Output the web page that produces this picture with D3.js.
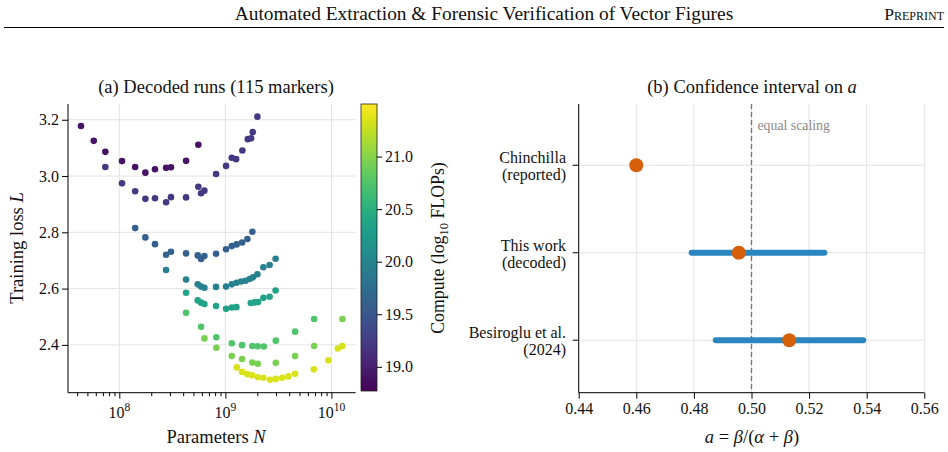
<!DOCTYPE html>
<html>
<head>
<meta charset="utf-8">
<script src="https://cdn.jsdelivr.net/npm/d3@7"></script>
<style>
  body { margin: 0; background: #fff; }
  svg text { font-family: "Liberation Serif", "DejaVu Serif", serif; fill: #111; }
</style>
</head>
<body>
<svg id="fig" width="948" height="452"></svg>
<script>
// iso-FLOP runs, one row per compute budget (log10 FLOPs)
const compute = [18.9, 19.2, 19.6, 19.95, 20.35, 20.75, 20.95, 21.35];
// parameters, in millions
const paramsM = [
  [43.5, 57.4, 73.8, 106, 141, 176, 217, 276, 307, 426, 556],
  [73.8, 106, 141, 176, 217, 276, 307, 426, 556, 590, 634, 817, 1015, 1149, 1262, 1447, 1627, 1748, 1813, 2004],
  [141, 176, 217, 276, 307, 426, 549, 590, 634, 817, 1015, 1149, 1276, 1437, 1613, 1797],
  [276, 426, 549, 590, 634, 817, 1015, 1149, 1276, 1407, 1551, 1692, 1825, 2004, 2283, 2612, 2976],
  [426, 549, 590, 634, 817, 1015, 1149, 1270, 1736, 1886, 2034, 2283, 2612, 2976],
  [426, 590, 822, 1149, 1437, 1797, 2021, 2303, 2989, 4545, 6868],
  [634, 822, 1149, 1437, 1797, 2021, 2989, 4545, 6868, 12700],
  [1281, 1437, 1613, 1786, 2021, 2283, 2641, 2989, 3426, 3929, 4545, 6823, 9369, 11490, 12700]
];
const loss = [
  [3.178, 3.125, 3.086, 3.053, 3.032, 3.012, 3.024, 3.029, 3.031, 3.054, 3.111],
  [3.032, 2.974, 2.946, 2.919, 2.921, 2.907, 2.925, 2.924, 2.962, 2.939, 2.948, 3.007, 3.036, 3.065, 3.060, 3.091, 3.131, 3.134, 3.156, 3.211],
  [2.815, 2.782, 2.758, 2.720, 2.731, 2.725, 2.718, 2.705, 2.716, 2.724, 2.740, 2.751, 2.757, 2.764, 2.776, 2.802],
  [2.666, 2.632, 2.615, 2.607, 2.603, 2.606, 2.607, 2.615, 2.621, 2.625, 2.628, 2.634, 2.640, 2.651, 2.676, 2.684, 2.706],
  [2.585, 2.558, 2.550, 2.545, 2.538, 2.528, 2.533, 2.534, 2.549, 2.551, 2.552, 2.567, 2.571, 2.593],
  [2.514, 2.464, 2.427, 2.406, 2.399, 2.396, 2.395, 2.394, 2.415, 2.447, 2.492],
  [2.423, 2.390, 2.360, 2.350, 2.337, 2.333, 2.336, 2.360, 2.396, 2.492],
  [2.320, 2.304, 2.296, 2.292, 2.285, 2.283, 2.276, 2.279, 2.283, 2.288, 2.297, 2.313, 2.345, 2.387, 2.396]
];
const lossTicks = [2.4, 2.6, 2.8, 3.0, 3.2];
const paramTicks = [1e8, 1e9, 1e10];
const computeTicks = [19.0, 19.5, 20.0, 20.5, 21.0];

// panel (b)
const studies = [["Chinchilla", "(reported)"], ["This work", "(decoded)"], ["Besiroglu et al.", "(2024)"]];
const estimate = [0.46, 0.4956, 0.5131];
const ciLow = [null, 0.4792, 0.4876];
const ciHigh = [null, 0.5253, 0.5388];
const aTicks = [0.44, 0.46, 0.48, 0.50, 0.52, 0.54, 0.56];

const runs = [];
compute.forEach((c, i) => paramsM[i].forEach((n, j) => runs.push({n: n * 1e6, l: loss[i][j], c: c})));

const svg = d3.select("#fig");
const gridCol = "#e3e3e3";
const labelSize = "18.5px";

// page header
svg.append("text").attr("x", 484).attr("y", 20).attr("text-anchor", "middle")
  .style("font-size", "19.4px").text("Automated Extraction & Forensic Verification of Vector Figures");
svg.append("text").attr("x", 944).attr("y", 20).attr("text-anchor", "end")
  .style("font-size", "17.6px").style("font-variant", "small-caps").text("Preprint");
svg.append("line").attr("x1", 4).attr("x2", 944).attr("y1", 27.5).attr("y2", 27.5)
  .attr("stroke", "#000").attr("stroke-width", 1);

// ---- (a) scatter ----
const x = d3.scaleLog().domain([10 ** 7.516, 10 ** 10.229]).range([68, 355.7]);
const y = d3.scaleLinear().domain([2.230, 3.256]).range([392.7, 104]);
const color = d3.scaleSequential(d3.interpolateViridis).domain([18.77, 21.5]);

const ga = svg.append("g");
ga.selectAll(".hg").data(lossTicks).join("line")
  .attr("x1", 68).attr("x2", 355.7).attr("y1", d => y(d)).attr("y2", d => y(d))
  .attr("stroke", gridCol).attr("stroke-width", 1);
ga.selectAll(".vg").data(paramTicks).join("line")
  .attr("x1", d => x(d)).attr("x2", d => x(d)).attr("y1", 104).attr("y2", 392.7)
  .attr("stroke", gridCol).attr("stroke-width", 1);

ga.selectAll("circle").data(runs).join("circle")
  .attr("cx", d => x(d.n)).attr("cy", d => y(d.l)).attr("r", 3.3)
  .attr("fill", d => color(d.c));

const minor = [];
for (let e = 7; e <= 10; e++) for (let k = 2; k <= 9; k++) {
  const v = k * 10 ** e;
  if (v > x.domain()[0] && v < x.domain()[1]) minor.push(v);
}
const xMinor = ga.append("g").attr("transform", "translate(0,392.7)")
  .call(d3.axisBottom(x).tickValues(minor).tickFormat("").tickSize(3.5).tickSizeOuter(0));
const xMajor = ga.append("g").attr("transform", "translate(0,392.7)")
  .call(d3.axisBottom(x).tickValues(paramTicks).tickFormat("").tickSize(6).tickSizeOuter(0));
[xMinor, xMajor].forEach(g => g.select(".domain").remove());
ga.selectAll(".xlab").data(paramTicks).join("text")
  .attr("x", d => x(d)).attr("y", 418).attr("text-anchor", "middle").style("font-size", "16px")
  .each(function(d) {
    const t = d3.select(this);
    t.append("tspan").text("10");
    t.append("tspan").attr("dy", -7).style("font-size", "11.5px").text(Math.round(Math.log10(d)));
  });

const yAx = ga.append("g").attr("transform", "translate(68,0)")
  .call(d3.axisLeft(y).tickValues(lossTicks).tickFormat(d3.format(".1f")).tickSize(6).tickSizeOuter(0));
yAx.select(".domain").remove();
yAx.selectAll("text").style("font-size", "16px").style("font-family", "Liberation Serif").attr("x", -9);
ga.append("line").attr("x1", 68).attr("x2", 68).attr("y1", 104).attr("y2", 392.7).attr("stroke", "#000");
ga.append("line").attr("x1", 68).attr("x2", 355.7).attr("y1", 392.7).attr("y2", 392.7).attr("stroke", "#000");

ga.append("text").attr("x", 216).attr("y", 93).attr("text-anchor", "middle").style("font-size", labelSize)
  .text("(a) Decoded runs (115 markers)");
const xl = ga.append("text").attr("x", 216).attr("y", 443).attr("text-anchor", "middle").style("font-size", labelSize);
xl.append("tspan").text("Parameters ");
xl.append("tspan").style("font-style", "italic").text("N");
const yl = ga.append("text").attr("transform", "translate(23,248) rotate(-90)").attr("text-anchor", "middle").style("font-size", labelSize);
yl.append("tspan").text("Training loss ");
yl.append("tspan").style("font-style", "italic").text("L");

// colorbar
const cy = d3.scaleLinear().domain(color.domain()).range([391, 104]);
const grad = svg.append("defs").append("linearGradient").attr("id", "vir")
  .attr("x1", 0).attr("x2", 0).attr("y1", 1).attr("y2", 0);
d3.range(0, 1.0001, 0.05).forEach(t => grad.append("stop").attr("offset", t).attr("stop-color", d3.interpolateViridis(t)));
svg.append("rect").attr("x", 361).attr("y", 104).attr("width", 16).attr("height", 287)
  .attr("fill", "url(#vir)").attr("stroke", "#222").attr("stroke-width", 0.8);
const cAx = svg.append("g").attr("transform", "translate(377,0)")
  .call(d3.axisRight(cy).tickValues(computeTicks).tickFormat(d3.format(".1f")).tickSize(5).tickSizeOuter(0));
cAx.select(".domain").remove();
cAx.selectAll("text").style("font-size", "16px").style("font-family", "Liberation Serif").attr("x", 8);
const cl = svg.append("text").attr("transform", "translate(443.5,248) rotate(-90)").attr("text-anchor", "middle").style("font-size", "17.8px");
cl.append("tspan").text("Compute (log");
cl.append("tspan").attr("dy", 4).style("font-size", "12.5px").text("10");
cl.append("tspan").attr("dy", -4).text(" FLOPs)");

// ---- (b) confidence intervals ----
const xb = d3.scaleLinear().domain([0.44, 0.56]).range([578.7, 924.3]);
const yb = d3.scaleLinear().domain([-0.7, 2.6]).range([104, 392.7]);
const gb = svg.append("g");

gb.selectAll(".vg").data(aTicks).join("line")
  .attr("x1", d => xb(d)).attr("x2", d => xb(d)).attr("y1", 104).attr("y2", 392.7)
  .attr("stroke", gridCol).attr("stroke-width", 1);
gb.selectAll(".hg").data(studies).join("line")
  .attr("x1", 578.7).attr("x2", 924.3).attr("y1", (d, i) => yb(i)).attr("y2", (d, i) => yb(i))
  .attr("stroke", gridCol).attr("stroke-width", 1);

gb.append("line").attr("x1", xb(0.5)).attr("x2", xb(0.5)).attr("y1", 104).attr("y2", 392.7)
  .attr("stroke", "#777").attr("stroke-width", 1.4).attr("stroke-dasharray", "5,3");
gb.append("text").attr("x", xb(0.5) + 6).attr("y", 130).style("font-size", "13.8px").style("fill", "#888")
  .text("equal scaling");

gb.selectAll(".ci").data(studies.map((s, i) => i).filter(i => ciLow[i] != null)).join("line")
  .attr("x1", i => xb(ciLow[i])).attr("x2", i => xb(ciHigh[i]))
  .attr("y1", i => yb(i)).attr("y2", i => yb(i))
  .attr("stroke", "#2b86c0").attr("stroke-width", 6).attr("stroke-linecap", "round");
gb.selectAll(".pt").data(estimate).join("circle")
  .attr("cx", d => xb(d)).attr("cy", (d, i) => yb(i)).attr("r", 7)
  .attr("fill", "#d65f0a");

const xbAx = gb.append("g").attr("transform", "translate(0,392.7)")
  .call(d3.axisBottom(xb).tickValues(aTicks).tickFormat(d3.format(".2f")).tickSize(6).tickSizeOuter(0));
xbAx.select(".domain").remove();
xbAx.selectAll("text").style("font-size", "16px").style("font-family", "Liberation Serif").attr("y", 10);
gb.append("line").attr("x1", 578.7).attr("x2", 924.3).attr("y1", 392.7).attr("y2", 392.7).attr("stroke", "#000");
gb.append("line").attr("x1", 578.7).attr("x2", 578.7).attr("y1", 104).attr("y2", 392.7).attr("stroke", "#000");
gb.selectAll(".yt").data(studies).join("line")
  .attr("x1", 572.7).attr("x2", 578.7).attr("y1", (d, i) => yb(i)).attr("y2", (d, i) => yb(i)).attr("stroke", "#000");
gb.selectAll(".ylab").data(studies).join("text")
  .attr("x", 566).attr("y", (d, i) => yb(i)).attr("text-anchor", "end").style("font-size", "16px")
  .each(function(d) {
    const t = d3.select(this);
    t.append("tspan").attr("x", 566).attr("dy", -2).text(d[0]);
    t.append("tspan").attr("x", 566).attr("dy", 17).text(d[1]);
  });

const tb = gb.append("text").attr("x", 752).attr("y", 93).attr("text-anchor", "middle").style("font-size", labelSize);
tb.append("tspan").text("(b) Confidence interval on ");
tb.append("tspan").style("font-style", "italic").text("a");
const xbl = gb.append("text").attr("x", 752).attr("y", 443).attr("text-anchor", "middle").style("font-size", labelSize);
xbl.append("tspan").style("font-style", "italic").text("a");
xbl.append("tspan").text(" = ");
xbl.append("tspan").style("font-style", "italic").text("β");
xbl.append("tspan").text("/(");
xbl.append("tspan").style("font-style", "italic").text("α");
xbl.append("tspan").text(" + ");
xbl.append("tspan").style("font-style", "italic").text("β");
xbl.append("tspan").text(")");
</script>
</body>
</html>
